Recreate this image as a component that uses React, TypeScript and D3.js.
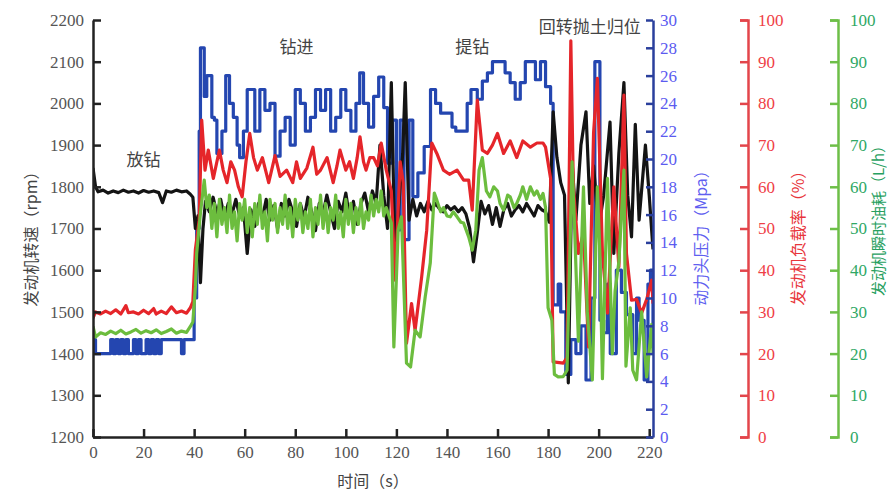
import { useEffect, useRef } from "react";
import * as d3 from "d3";

type Pt = [number, number];

const timeTicks = [0, 20, 40, 60, 80, 100, 120, 140, 160, 180, 200, 220];
const rpmTicks = [1200, 1300, 1400, 1500, 1600, 1700, 1800, 1900, 2000, 2100, 2200];
const mpaTicks = [0, 2, 4, 6, 8, 10, 12, 14, 16, 18, 20, 22, 24, 26, 28, 30];
const pctTicks = [0, 10, 20, 30, 40, 50, 60, 70, 80, 90, 100];

const stageLabels = ["放钻", "钻进", "提钻", "回转抛土归位"];
// [time, rpm] where each stage label sits
const stageAnchors: Pt[] = [[20, 1869], [80.5, 2140], [150, 2140], [196.5, 2188]];

// engine speed (rpm)
const blackRpm: Pt[] = [
  [0, 1845], [1, 1800], [2, 1788], [4, 1792], [6, 1785], [8, 1790], [10, 1786], [12, 1792],
  [14, 1787], [16, 1790], [18, 1785], [20, 1791], [22, 1787], [24, 1790], [26, 1786], [27.5, 1762],
  [29, 1790], [31, 1787], [33, 1792], [35, 1788], [37, 1790], [38.5, 1782], [39.5, 1775], [40.5, 1700],
  [41.5, 1730], [42.5, 1570], [43.5, 1700], [44.5, 1765], [46, 1740], [47.5, 1775], [49, 1735], [50.5, 1770],
  [52, 1725], [53.5, 1760], [55, 1735], [56.5, 1770], [58, 1730], [59.5, 1750], [61, 1640], [62.5, 1745],
  [64, 1705], [65.5, 1760], [67, 1725], [68.5, 1770], [70, 1720], [71.5, 1755], [73, 1700], [74.5, 1760],
  [76, 1730], [77.5, 1770], [79, 1740], [80.5, 1705], [82, 1760], [83.5, 1725], [85, 1775], [86.5, 1740],
  [88, 1695], [89.5, 1760], [91, 1735], [92.5, 1780], [94, 1740], [95.5, 1700], [97, 1765], [98.5, 1740],
  [100, 1785], [101.5, 1725], [103, 1765], [104.5, 1710], [106, 1760], [107.5, 1785], [109, 1740], [110.5, 1790],
  [112, 1760], [113.5, 1900], [115, 1780], [116.5, 1700], [118, 2050], [119.5, 1620], [121, 1760], [122.5, 1880],
  [123.5, 2050], [125, 1720], [126.5, 1770], [128, 1730], [129.5, 1760], [131, 1740], [132.5, 1765], [134, 1745],
  [135.5, 1760], [137, 1748], [138.5, 1740], [140, 1755], [141.5, 1745], [143, 1752], [144.5, 1740], [146, 1750],
  [147.5, 1735], [149, 1700], [150.5, 1620], [152, 1690], [153.5, 1765], [155, 1735], [156.5, 1755], [158, 1710],
  [159.5, 1750], [161, 1705], [162.5, 1745], [164, 1760], [165.5, 1730], [167, 1745], [168.5, 1755], [170, 1740],
  [171.5, 1760], [173, 1745], [174.5, 1730], [176, 1755], [177.5, 1745], [179, 1740], [180.5, 1715], [182, 1980],
  [183.5, 1870], [185, 1810], [186.5, 1780], [188, 1330], [189.5, 1860], [191, 1720], [193, 1900], [195, 1980],
  [196.5, 1760], [198, 1850], [200, 1700], [202, 1780], [204.5, 1955], [206, 1640], [208, 1880], [210, 2050],
  [211.5, 1780], [213, 1680], [214.5, 1950], [216, 1720], [218.5, 1900], [220, 1780], [221.5, 1650],
];

// power head pressure (MPa)
const bluePressure: Pt[] = [
  [0, 7], [1, 6], [7, 7], [8, 6], [9, 7], [10, 6], [11, 7], [12, 6], [13, 7], [14, 6], [16, 7], [17, 6],
  [18, 7], [19, 6], [21, 7], [22, 6], [23, 7], [24, 6], [25, 7], [26, 6], [27, 7], [35, 6], [36, 7],
  [40, 10], [41, 15], [42, 22], [42.5, 28], [44, 24.5], [45, 26], [47, 23], [48, 22.8], [49, 20.4],
  [51, 22], [52.5, 26], [54, 24], [55.5, 23], [57, 21], [58, 20.1], [59.5, 22], [61, 25], [64, 22],
  [66, 25], [68, 23.5], [70, 24], [72, 20.2], [74, 22], [76, 23], [78, 21], [80, 25], [82, 24], [84, 22],
  [86, 23], [88, 25], [90, 23.5], [92, 25], [94, 22], [96, 23], [98, 25], [100, 23.5], [102, 22], [104, 24],
  [105.5, 26.2], [107, 24], [109, 22.3], [111, 24.5], [113, 25.9], [115, 23.7], [116.5, 19.7], [118.5, 22.8],
  [120, 14.9], [121.5, 22.8], [123, 14.2], [125, 22.8], [126.5, 17.3], [128.5, 19], [131, 20.9], [133.5, 25],
  [135.5, 24], [137.5, 23.3], [142, 22.3], [143.5, 22], [148, 24], [149.5, 25], [152, 24.3], [154, 25.6],
  [156, 26.2], [158, 27], [163, 26.2], [165, 25.5], [167, 24.3], [169, 25.5], [171, 27], [175, 25.7],
  [177, 27], [179, 25.2], [181, 24], [182, 9.5], [184, 11], [185, 9], [187, 4.5], [189, 7], [191, 6],
  [193, 8], [195, 4.1], [197, 10], [198.5, 27], [200.5, 8.4], [202, 7.5], [203.5, 11], [204.6, 6],
  [207, 12], [209, 10.4], [211, 8.8], [213.5, 6], [215, 10], [216, 8.4], [218, 4.1], [219.5, 11],
  [220.5, 12], [221.5, 8],
];

// engine load rate (%)
const redLoad: Pt[] = [
  [0, 28.5], [1, 30], [3, 29.5], [5, 30.2], [7, 29.6], [9, 30.5], [11, 29.5], [13, 31.5], [14, 29.8],
  [16, 30], [18, 29.5], [20, 30.4], [22, 29.6], [24, 30.8], [25, 29.5], [27, 30.2], [29, 29.6], [31, 31.2],
  [33, 29.8], [35, 30.2], [37, 29.7], [38.5, 31], [39.5, 32.5], [40.5, 45], [42, 52], [43, 76], [44.3, 64],
  [45.6, 68.8], [47.6, 62], [49, 66], [50, 68.8], [51.5, 64], [53, 61], [54.5, 66], [56, 64], [57.5, 60],
  [59, 57.6], [60.5, 66], [62, 72.8], [63.5, 67], [65, 64], [67, 67], [69.5, 61], [72, 67.5], [74, 62.5],
  [76.6, 64], [79, 61], [80.5, 66], [82, 62], [84.6, 64.5], [87, 69.5], [88.5, 63], [90, 64], [92.6, 67],
  [95, 61], [96.5, 65], [97.7, 68.8], [100, 64], [101.5, 66], [103, 62], [104.5, 67], [105.6, 72], [107, 66],
  [108, 64], [109.5, 67], [111, 67], [112.5, 65], [114, 70.5], [116, 64], [118, 59], [119.5, 37.6],
  [121.5, 66], [122.7, 61], [124, 22.5], [126, 32], [127.4, 25.6], [130, 38.4], [132, 49.6], [134, 70.5],
  [136, 68], [138.6, 64], [141, 63], [144, 64], [146.6, 61.6], [148.6, 61.6], [150, 54.4], [152, 80.8],
  [154, 68.8], [156, 68], [158, 70], [160, 72.8], [162.4, 68], [165, 71], [167.6, 67], [170, 71],
  [173, 69.5], [175.6, 70.5], [178, 70.5], [179, 69.5], [181, 62], [182, 18], [186, 17.7], [187.5, 19],
  [189, 95], [190, 60], [192, 44], [194, 49], [196, 21.6], [198, 73], [199.5, 86], [201.5, 44],
  [203.5, 29.7], [206, 60], [208, 40.8], [210, 82], [211, 44], [213, 32.8], [215, 33], [217, 29.7],
  [219, 33], [221, 37.6], [221.5, 32],
];

// instantaneous fuel consumption (L/h)
const greenFuel: Pt[] = [
  [0, 26.5], [1, 24], [3, 25], [5, 24.6], [7, 25.4], [9, 24.8], [11, 25.6], [13, 24.7], [15, 25.2],
  [17, 25.8], [19, 24.9], [21, 25.5], [23, 25], [25, 25.7], [27, 24.8], [29, 25.3], [31, 25.9], [33, 24.9],
  [35, 25.4], [37, 25.1], [38.5, 26.5], [39.5, 27.6], [40.5, 36], [41, 44], [42.5, 53.7], [44, 61.6],
  [45, 55], [46, 58], [47, 50], [48, 56], [49, 48], [50, 57], [51, 51], [52, 55], [53, 49], [54, 58],
  [55, 50], [56, 54], [57, 47], [58, 56], [59, 52], [60, 57], [61, 49], [62, 55], [63, 48], [64, 56],
  [65, 51], [66, 58], [67, 50], [68, 54], [69, 47], [70, 57], [71, 52], [72, 56], [73, 49], [74, 55],
  [75, 51], [76, 58], [77, 50], [78, 55], [79, 48], [80, 57], [81, 52], [82, 56], [83, 49], [84, 54],
  [85, 50], [86, 57], [87, 48], [88, 55], [89, 51], [90, 58], [91, 50], [92, 56], [93, 49], [94, 55],
  [95, 52], [96, 58], [97, 50], [98, 54], [99, 48], [100, 57], [101, 51], [102, 56], [103, 49], [104, 55],
  [105, 51], [106, 57], [107, 50], [108, 54], [109, 52], [110, 58], [111, 53], [112, 57], [113, 54],
  [114, 59], [115, 53], [116, 55], [118, 51.3], [119, 21.6], [120.7, 49.6], [122, 52.8], [124, 17.7],
  [125.6, 16.8], [127.4, 25.6], [129.4, 24], [131.4, 33.6], [133.4, 41.7], [135, 58.5], [136, 56.8],
  [137.5, 54], [138.6, 55], [140, 53], [141.3, 52.8], [142.5, 54], [144, 52.8], [145.5, 51.5], [146.6, 51.3],
  [148.6, 48], [150, 44.8], [151.4, 49.6], [152.7, 64], [154, 67], [155.6, 59], [157, 57.6], [158.5, 60],
  [160, 59], [161, 56], [162.4, 54.4], [164, 58], [165, 57.6], [166.5, 55], [167.6, 56], [169, 58],
  [170, 60], [171.5, 57], [173, 60], [174.5, 58], [175.6, 59], [177, 57], [178, 58.4], [179, 55],
  [180, 31], [181.5, 28], [182.5, 15], [184, 14.4], [186, 14.5], [187.5, 16], [189.5, 66], [190.5, 50],
  [192, 23], [194, 60], [195.5, 30], [197.5, 13.7], [199.5, 60], [200.5, 44], [201.5, 14], [203.5, 62],
  [205.4, 20], [206.5, 35], [208, 42], [210, 64], [210.8, 17], [212.5, 31], [213.5, 16], [215, 13.7],
  [217, 30], [219, 14.4], [221, 27], [221.5, 20],
];

const serif = "'Liberation Serif', 'Times New Roman', serif";
const cjk = "'Noto Sans CJK SC', sans-serif";

const App = () => {
  const chartRef = useRef<SVGSVGElement | null>(null);

  useEffect(() => {
    if (!chartRef.current) return;
    const svg = d3.select(chartRef.current);
    svg.selectAll("*").remove();

    const top = 20;
    const bottom = 437;
    const left = 93;
    const right = 653;

    const x = d3.scaleLinear().domain([0, 221.5]).range([left, right]);
    const yRpm = d3.scaleLinear().domain([1200, 2200]).range([bottom, top]);
    const yMpa = d3.scaleLinear().domain([0, 30]).range([bottom, top]);
    const yPct = d3.scaleLinear().domain([0, 100]).range([bottom, top]);
    const fmt = d3.format("d");

    svg
      .append("defs")
      .append("clipPath")
      .attr("id", "plot-clip")
      .append("rect")
      .attr("x", left)
      .attr("y", top - 4)
      .attr("width", right - left)
      .attr("height", bottom - top + 4);

    const styleAxis = (
      g: d3.Selection<SVGGElement, unknown, null, undefined>,
      lineColor: string,
      textColor: string
    ) => {
      g.attr("font-family", null).attr("font-size", null);
      g.select(".domain").attr("stroke", lineColor).attr("stroke-width", 2.5);
      g.selectAll(".tick line").attr("stroke", lineColor).attr("stroke-width", 2.5);
      g.selectAll(".tick text")
        .attr("fill", textColor)
        .style("font-family", serif)
        .style("font-size", "17px");
    };

    // series
    const plot = svg.append("g").attr("clip-path", "url(#plot-clip)");
    const drawSeries = (data: Pt[], yScale: d3.ScaleLinear<number, number>, color: string, step = false) => {
      const line = d3
        .line<Pt>()
        .x((d) => x(d[0]))
        .y((d) => yScale(d[1]))
        .curve(step ? d3.curveStepAfter : d3.curveLinear);
      plot
        .append("path")
        .datum(data)
        .attr("d", line)
        .attr("fill", "none")
        .attr("stroke", color)
        .attr("stroke-width", 3.2)
        .attr("stroke-linejoin", "round");
    };
    drawSeries(bluePressure, yMpa, "#2446b0", true);
    drawSeries(blackRpm, yRpm, "#141414");
    drawSeries(redLoad, yPct, "#e5252a");
    drawSeries(greenFuel, yPct, "#6cbd3e");

    // axes
    svg
      .append("g")
      .attr("transform", `translate(0,${bottom})`)
      .call(d3.axisBottom(x).tickValues(timeTicks).tickFormat(fmt).tickSize(-8).tickSizeOuter(0).tickPadding(9))
      .call((g) => styleAxis(g, "#222", "#555"));

    svg
      .append("g")
      .attr("transform", `translate(${left},0)`)
      .call(d3.axisLeft(yRpm).tickValues(rpmTicks).tickFormat(fmt).tickSize(-8).tickSizeOuter(0).tickPadding(9))
      .call((g) => styleAxis(g, "#222", "#555"));

    svg
      .append("g")
      .attr("transform", `translate(${right},0)`)
      .call(d3.axisRight(yMpa).tickValues(mpaTicks).tickFormat(fmt).tickSize(-7).tickSizeOuter(0).tickPadding(7))
      .call((g) => styleAxis(g, "#2a3f9c", "#5b5bf0"));

    svg
      .append("g")
      .attr("transform", "translate(748,0)")
      .call(d3.axisRight(yPct).tickValues(pctTicks).tickFormat(fmt).tickSize(-8).tickSizeOuter(-8).tickPadding(10))
      .call((g) => styleAxis(g, "#e3454b", "#ef4046"));

    svg
      .append("g")
      .attr("transform", "translate(838,0)")
      .call(d3.axisRight(yPct).tickValues(pctTicks).tickFormat(fmt).tickSize(-8).tickSizeOuter(-8).tickPadding(12))
      .call((g) => styleAxis(g, "#6ebf48", "#2fa865"));

    // axis titles
    const vTitle = (text: string, cx: number, cy: number, color: string, size = 16) => {
      svg
        .append("text")
        .attr("transform", `translate(${cx},${cy}) rotate(-90)`)
        .attr("text-anchor", "middle")
        .attr("dominant-baseline", "central")
        .style("font-family", cjk)
        .style("font-size", `${size}px`)
        .attr("fill", color)
        .text(text);
    };
    vTitle("发动机转速（rpm）", 30, 235, "#444");
    vTitle("动力头压力（Mpa）", 700, 234, "#5f5ff0");
    vTitle("发动机负载率（%）", 797, 234, "#e8343a");
    vTitle("发动机瞬时油耗（L/h）", 877, 217, "#27a060", 15);

    svg
      .append("text")
      .attr("x", 373)
      .attr("y", 480)
      .attr("text-anchor", "middle")
      .attr("dominant-baseline", "central")
      .style("font-family", cjk)
      .style("font-size", "16px")
      .attr("fill", "#444")
      .text("时间（s）");

    // stage annotations
    svg
      .selectAll("text.stage")
      .data(stageLabels)
      .join("text")
      .attr("class", "stage")
      .attr("x", (_, i) => x(stageAnchors[i][0]))
      .attr("y", (_, i) => yRpm(stageAnchors[i][1]))
      .attr("text-anchor", "middle")
      .attr("dominant-baseline", "central")
      .style("font-family", cjk)
      .style("font-size", "17px")
      .attr("fill", "#444")
      .text((d) => d);
  }, []);

  return (
    <div style={{ position: "absolute", left: 0, top: 0 }}>
      <svg ref={chartRef} width={887} height={494} style={{ display: "block", background: "#fff" }} />
    </div>
  );
};

export default App;
